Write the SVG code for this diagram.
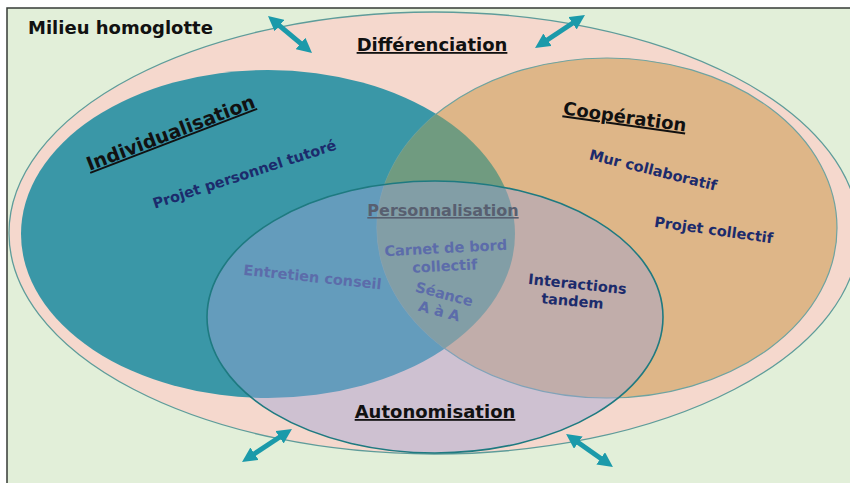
<svg xmlns="http://www.w3.org/2000/svg" width="850" height="483" viewBox="0 0 850 483">
  <style>
    text { font-family: "DejaVu Sans", Verdana, sans-serif; font-weight: bold; }
    .h { font-size: 18px; fill: #111; }
    .u { text-decoration: underline; }
    .navy { font-size: 14.5px; fill: #1c2b6c; }
    .muted { font-size: 14.5px; fill: #5c6caa; }
    .conn { stroke: #1b9aaa; stroke-width: 5; fill: none; marker-start: url(#ah); marker-end: url(#ah); }
  </style>
  <defs>
    <marker id="ah" viewBox="0 0 10 10" refX="4.5" refY="5" markerWidth="3" markerHeight="3" orient="auto-start-reverse" markerUnits="strokeWidth">
      <path d="M0,0 L10,5 L0,10 z" fill="#1b9aaa"/>
    </marker>
    <clipPath id="clipOrange">
      <ellipse cx="607" cy="228" rx="230" ry="170"/>
    </clipPath>
  </defs>

  <rect x="0" y="0" width="850" height="483" fill="#ffffff"/>
  <rect id="milieu-bg" x="7" y="8" width="850" height="480" fill="#e2efd9" stroke="#363b36" stroke-width="1.5"/>

  <g id="differenciation">
    <ellipse cx="434" cy="233" rx="425" ry="221" fill="#f5d8cd" stroke="#5e9c9a" stroke-width="1.3"/>
    <text class="h u" x="432" y="51" text-anchor="middle">Différenciation</text>
  </g>

  <g id="individualisation">
    <ellipse cx="268" cy="234" rx="247" ry="164" fill="#3a97a7"/>
    <text class="h u" font-size="19" style="font-size:19px" x="173" y="139" text-anchor="middle" transform="rotate(-21 173 139)">Individualisation</text>
    <text class="navy" x="246" y="179" text-anchor="middle" transform="rotate(-18 246 179)">Projet personnel tutoré</text>
  </g>

  <g id="cooperation">
    <ellipse cx="607" cy="228" rx="230" ry="170" fill="#deb688" stroke="#6ea3a0" stroke-width="1.2"/>
    <ellipse cx="268" cy="234" rx="247" ry="164" fill="#709b80" clip-path="url(#clipOrange)"/>
    <text class="h u" x="624" y="123" text-anchor="middle" transform="rotate(8 624 123)">Coopération</text>
    <text class="navy" x="652" y="175" text-anchor="middle" transform="rotate(14 652 175)">Mur collaboratif</text>
    <text class="navy" x="713" y="235" text-anchor="middle" transform="rotate(8 713 235)">Projet collectif</text>
  </g>

  <g id="autonomisation">
    <ellipse cx="435" cy="317" rx="228" ry="136" fill="#9ca2d7" fill-opacity="0.43" stroke="#1e7a80" stroke-width="1.6"/>
    <text class="u" x="443" y="216" text-anchor="middle" style="font-size:16px; fill:#585f70">Personnalisation</text>
    <text class="muted" x="446" y="253" text-anchor="middle" transform="rotate(-3 446 253)">Carnet de bord</text>
    <text class="muted" x="445" y="271" text-anchor="middle" transform="rotate(-3 445 271)">collectif</text>
    <text class="muted" x="443" y="299" text-anchor="middle" transform="rotate(15 443 299)">Séance</text>
    <text class="muted" x="438" y="316" text-anchor="middle" transform="rotate(15 438 316)">A à A</text>
    <text class="muted" x="312" y="282" text-anchor="middle" transform="rotate(6 312 282)">Entretien conseil</text>
    <text class="navy" x="577" y="289" text-anchor="middle" transform="rotate(6 577 289)">Interactions</text>
    <text class="navy" x="572" y="306" text-anchor="middle" transform="rotate(5 572 306)">tandem</text>
    <text class="h u" x="435" y="418" text-anchor="middle">Autonomisation</text>
  </g>

  <g id="milieu-label">
    <text class="h" x="28" y="34">Milieu homoglotte</text>
  </g>

  <g id="connectors">
    <line class="conn" x1="274.3" y1="21.3" x2="305.7" y2="47.7"/>
    <line class="conn" x1="541.9" y1="43.5" x2="578.1" y2="19.5"/>
    <line class="conn" x1="248.9" y1="457.5" x2="285.1" y2="433.5"/>
    <line class="conn" x1="572.8" y1="438.7" x2="606.2" y2="462.3"/>
  </g>
</svg>
